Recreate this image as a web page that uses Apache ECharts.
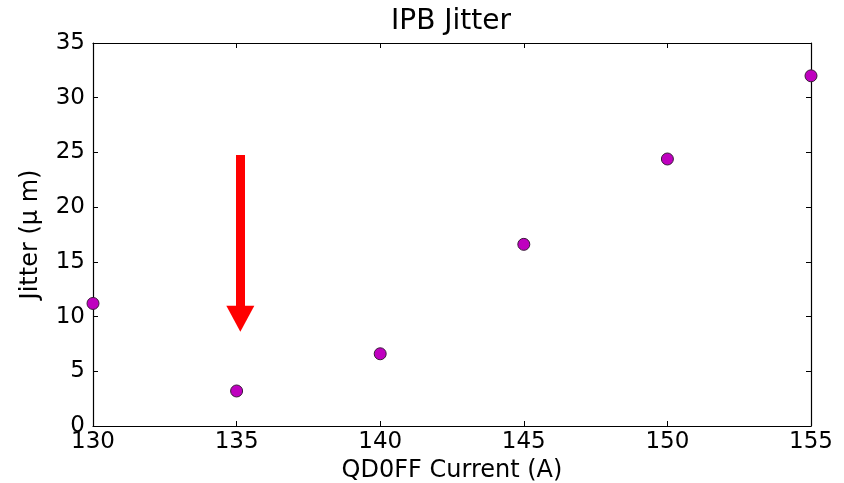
<!DOCTYPE html>
<html>
<head>
<meta charset="utf-8">
<script src="https://cdn.jsdelivr.net/npm/echarts@6/dist/echarts.min.js"></script>
<style>html,body{margin:0;padding:0;background:#fff}#c{width:844px;height:483px}</style>
</head>
<body>
<div id="c"></div>
<script>
var currents = [130, 135, 140, 145, 150, 155];
var jitter = [11.2, 3.2, 6.6, 16.6, 24.4, 32.0];
var arrowStart = [135.13, 24.77];
var arrowEnd = [135.13, 9.8];
var titleText = 'IPB Jitter';
var xName = 'QD0FF Current (A)';
var yName = 'Jitter (\u03bc m)';

var font = 'DejaVu Sans';
var chart = echarts.init(document.getElementById('c'));
var tickStyle = {show: true, inside: true, length: 5, lineStyle: {color: '#000', width: 1}};
var lineStyle = {show: true, onZero: false, lineStyle: {color: '#000', width: 1.2}};
chart.setOption({
  animation: false,
  title: {text: titleText, left: 446, top: 3, textAlign: 'center',
    textStyle: {fontFamily: font, fontSize: 28, fontWeight: 'normal', color: '#000'}},
  grid: {left: 93, right: 33, top: 43, bottom: 57, containLabel: false, outerBoundsMode: 'none'},
  xAxis: [{
    type: 'value', min: 130, max: 155, interval: 5, position: 'bottom',
    axisLine: lineStyle, axisTick: tickStyle, splitLine: {show: false},
    axisLabel: {fontFamily: font, fontSize: 23, color: '#000', margin: 5},
    name: xName, nameLocation: 'middle', nameGap: 32,
    nameTextStyle: {fontFamily: font, fontSize: 24, color: '#000'}
  }, {
    type: 'value', min: 130, max: 155, interval: 5, position: 'top',
    axisLine: lineStyle, axisTick: tickStyle, splitLine: {show: false},
    axisLabel: {show: false}
  }],
  yAxis: [{
    type: 'value', min: 0, max: 35, interval: 5, position: 'left',
    axisLine: lineStyle, axisTick: tickStyle, splitLine: {show: false},
    axisLabel: {fontFamily: font, fontSize: 23, color: '#000', margin: 8},
    name: yName, nameLocation: 'middle', nameGap: 50,
    nameTextStyle: {fontFamily: font, fontSize: 24, color: '#000'}
  }, {
    type: 'value', min: 0, max: 35, interval: 5, position: 'right',
    axisLine: lineStyle, axisTick: tickStyle, splitLine: {show: false},
    axisLabel: {show: false}
  }],
  series: [{
    type: 'scatter',
    data: currents.map(function (c, i) { return [c, jitter[i]]; }),
    symbol: 'circle', symbolSize: 12,
    itemStyle: {color: '#bf00bf', borderColor: '#3a1a3a', borderWidth: 1, opacity: 1},
    clip: false, z: 5
  }, {
    type: 'line', data: [],
    markLine: {
      silent: true, animation: false,
      symbol: ['none', 'triangle'], symbolSize: [28, 26],
      label: {show: false},
      lineStyle: {color: '#ff0000', width: 9, type: 'solid', opacity: 1, cap: 'butt'},
      data: [[{coord: arrowStart}, {coord: arrowEnd}]]
    }
  }]
});
</script>
</body>
</html>
